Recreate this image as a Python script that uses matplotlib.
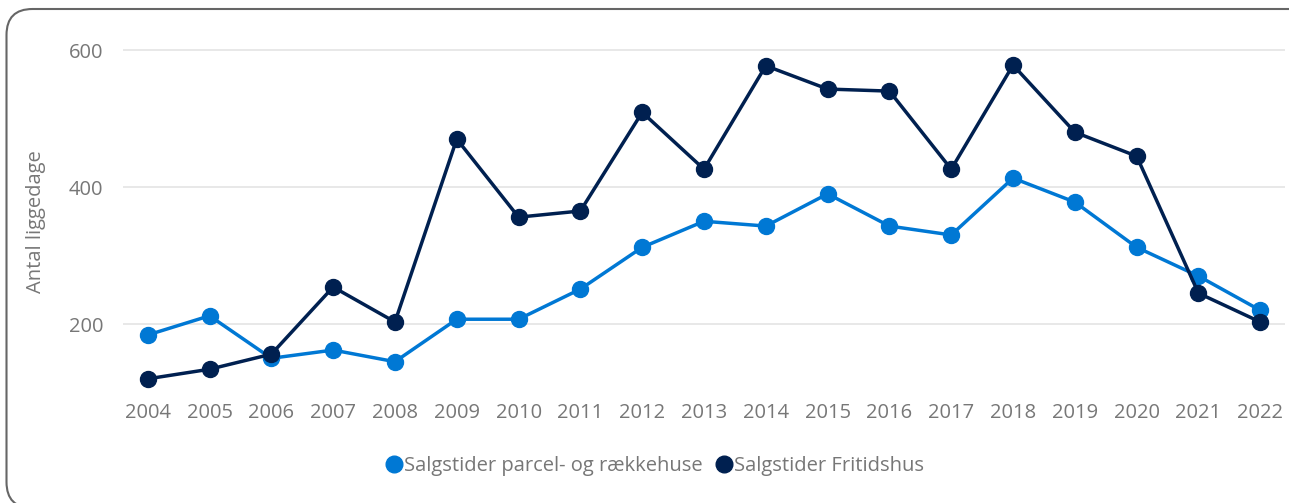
import matplotlib
matplotlib.use("Agg")
import matplotlib.pyplot as plt
from matplotlib.patches import FancyBboxPatch
from matplotlib.lines import Line2D

# data
aar = [str(a) for a in range(2004, 2023)]
parcel = [184, 212, 150, 162, 145, 207, 207, 251, 312, 350, 343, 390, 343, 330, 413, 378, 312, 270, 220]
fritid = [120, 134, 156, 254, 203, 470, 356, 365, 509, 426, 577, 543, 540, 426, 578, 480, 445, 245, 203]
yticks = [200, 400, 600]

lys_blaa = '#0078D4'
moerk_blaa = '#002050'
graa = '#777777'

plt.rcParams['font.family'] = ['Open Sans', 'DejaVu Sans']

W, H = 1289, 503
fig = plt.figure(figsize=(W / 100, H / 100), dpi=100)

# akse placeret i pixels
venstre, hoejre, top, bund = 123, 1285, 40, 395
ax = fig.add_axes([venstre / W, 1 - bund / H, (hoejre - venstre) / W, (bund - top) / H])

x = list(range(len(aar)))
ax.plot(x, parcel, color=lys_blaa, lw=2.5, marker='o', ms=11.5, zorder=3)
ax.plot(x, fritid, color=moerk_blaa, lw=2.5, marker='o', ms=11.5, zorder=4)

ax.set_xlim(-0.4, len(aar) - 1 + 0.4)
ax.set_ylim(96.4, 614.6)
ax.set_xticks(x)
ax.set_xticklabels(aar)
ax.set_yticks(yticks)
ax.grid(axis='y', color='#e6e6e6', lw=1.3)
ax.set_axisbelow(True)
for s in ax.spines.values():
    s.set_visible(False)
ax.tick_params(axis='both', length=0, colors=graa, labelsize=14.5)
ax.tick_params(axis='x', pad=6)
ax.tick_params(axis='y', pad=14)
ax.set_ylabel('Antal liggedage', color=graa, fontsize=14.5)
ax.yaxis.set_label_coords((46 - venstre) / (hoejre - venstre), (bund - 222) / (bund - top))

handles = [Line2D([], [], color=lys_blaa, marker='o', ls='', ms=12),
           Line2D([], [], color=moerk_blaa, marker='o', ls='', ms=12)]
fig.legend(handles, ['Salgstider parcel- og rækkehuse', 'Salgstider Fritidshus'],
           loc='center', bbox_to_anchor=(654 / W, 1 - 466 / H), ncol=2, frameon=False,
           fontsize=14.5, labelcolor=graa, handletextpad=0.0, columnspacing=0.6,
           handlelength=1.0)

# afrundet ramme rundt om figuren (pixel -> tommer)
ramme = FancyBboxPatch((6.5 / 100, (H - 508) / 100), (1318 - 6.5) / 100, (508 - 9) / 100,
                       boxstyle='round,pad=0,rounding_size=0.26',
                       transform=fig.dpi_scale_trans, fill=False, ec='#666666', lw=1.5,
                       clip_on=False)
fig.patches.append(ramme)

fig.savefig('out.png', dpi=100)
